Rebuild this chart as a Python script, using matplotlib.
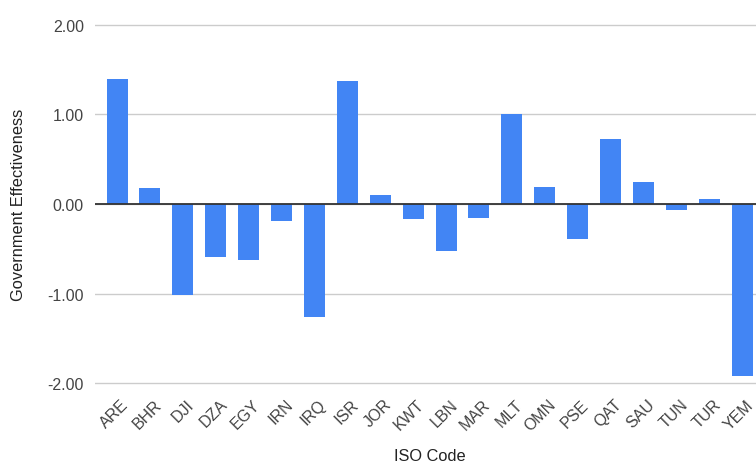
import matplotlib
matplotlib.use("Agg")
import matplotlib.pyplot as plt
from matplotlib.transforms import ScaledTranslation

categories = ["ARE", "BHR", "DJI", "DZA", "EGY", "IRN", "IRQ", "ISR", "JOR", "KWT",
              "LBN", "MAR", "MLT", "OMN", "PSE", "QAT", "SAU", "TUN", "TUR", "YEM"]
values = [1.39, 0.18, -1.02, -0.59, -0.62, -0.19, -1.26, 1.375, 0.10, -0.17,
          -0.52, -0.16, 1.00, 0.19, -0.39, 0.73, 0.24, -0.07, 0.06, -1.92]
yticks = [-2.0, -1.0, 0.0, 1.0, 2.0]
ytick_labels = ["-2.00", "-1.00", "0.00", "1.00", "2.00"]

plt.rcParams['font.family'] = ['Liberation Sans', 'DejaVu Sans']

W, H = 756, 464
fig = plt.figure(figsize=(W / 100, H / 100), dpi=100)
ppu = 89.65
m = 0.02
left, right = 95, 756
top, bottom = 25.7 - m * ppu, 384.3 + m * ppu
ax = fig.add_axes([left / W, (H - bottom) / H, (right - left) / W, (bottom - top) / H])

x = list(range(len(categories)))
ax.bar(x, values, width=0.64, color="#4285F4", zorder=3)

ax.set_ylim(-2 - m, 2 + m)
ax.set_xlim(-0.67, len(categories) - 1 + 0.42)
ax.set_yticks(yticks)
ax.set_yticklabels(ytick_labels)
ax.set_xticks(x)
ax.set_xticklabels(categories, rotation=45, ha="right", va="center", rotation_mode="anchor")

for spine in ax.spines.values():
    spine.set_visible(False)
ax.tick_params(axis="both", length=0, labelsize=11.5, colors="#444444")
ax.tick_params(axis="y", pad=8)
ax.tick_params(axis="x", pad=12)

offset = ScaledTranslation(9 / 100, 0, fig.dpi_scale_trans)
for lab in ax.get_xticklabels():
    lab.set_transform(lab.get_transform() + offset)

ax.grid(axis="y", color="#cccccc", linewidth=1, zorder=0)
ax.grid(axis="x", visible=False)
ax.axhline(0, color="#333333", linewidth=1.3, zorder=4)

ax.set_ylabel("Government Effectiveness", fontsize=11.8, color="#222222", va="center")
ax.yaxis.set_label_coords((19 - left) / (right - left), 0.5)
ax.set_xlabel("ISO Code", fontsize=11.8, color="#222222", va="center")
ax.xaxis.set_label_coords((430 - left) / (right - left), -(457 - bottom) / (bottom - top))

fig.savefig("out.png", dpi=100)
